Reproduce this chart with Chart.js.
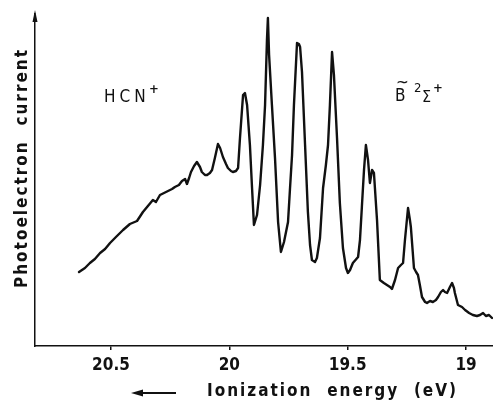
<!DOCTYPE html>
<html>
<head>
<meta charset="utf-8">
<script src="https://cdn.jsdelivr.net/npm/chart.js@4/dist/chart.umd.min.js"></script>
<style>
  html, body { margin: 0; padding: 0; background: #fff; }
  #wrap { width: 493px; height: 405px; position: relative; }
</style>
</head>
<body>
<div id="wrap"><canvas id="c" width="493" height="405"></canvas></div>
<script>
// Ionization energy (eV)
const energy = [
  20.635, 20.610, 20.589, 20.568, 20.546, 20.525, 20.504, 20.479, 20.449, 20.420,
  20.390, 20.365, 20.344, 20.323, 20.310, 20.293, 20.276, 20.259, 20.242, 20.230,
  20.213, 20.200, 20.187, 20.179, 20.170, 20.162, 20.149, 20.137, 20.124, 20.116,
  20.103, 20.094, 20.082, 20.073, 20.061, 20.048, 20.039, 20.027, 20.014, 20.006,
  19.993, 19.985, 19.972, 19.963, 19.955, 19.942, 19.934, 19.925, 19.913, 19.904,
  19.896, 19.883, 19.870, 19.858, 19.849, 19.841, 19.837, 19.832, 19.820, 19.807,
  19.794, 19.782, 19.769, 19.752, 19.744, 19.735, 19.727, 19.714, 19.706, 19.701,
  19.693, 19.680, 19.668, 19.659, 19.651, 19.638, 19.630, 19.617, 19.604, 19.592,
  19.583, 19.575, 19.566, 19.558, 19.545, 19.533, 19.520, 19.507, 19.499, 19.490,
  19.478, 19.456, 19.448, 19.440, 19.431, 19.423, 19.414, 19.406, 19.397, 19.389,
  19.376, 19.364, 19.347, 19.334, 19.321, 19.313, 19.300, 19.287, 19.275, 19.266,
  19.258, 19.245, 19.237, 19.233, 19.220, 19.211, 19.203, 19.195, 19.186, 19.173,
  19.165, 19.152, 19.140, 19.127, 19.118, 19.106, 19.097, 19.089, 19.080, 19.068,
  19.059, 19.051, 19.047, 19.034, 19.017, 19.004, 18.987, 18.971, 18.954, 18.941,
  18.928, 18.916, 18.903, 18.890
];
// Photoelectron current (arbitrary units)
const current = [
  74, 78, 83, 87, 93, 97, 103, 109, 116, 122,
  125, 134, 140, 146, 144, 151, 153, 155, 157, 159,
  161, 165, 167, 162, 168, 174, 180, 184, 179, 174,
  171, 171, 173, 176, 188, 202, 198, 189, 182, 178,
  175, 174, 175, 178, 208, 251, 253, 241, 201, 158,
  121, 131, 161, 201, 241, 306, 328, 291, 241, 188,
  124, 94, 104, 124, 156, 191, 241, 303, 302, 299,
  274, 201, 134, 101, 86, 84, 88, 108, 158, 181,
  201, 241, 294, 271, 208, 143, 98, 78, 73, 76,
  83, 89, 106, 139, 176, 201, 186, 163, 176, 173,
  126, 66, 63, 61, 59, 57, 66, 78, 81, 83,
  106, 138, 126, 119, 78, 74, 71, 61, 49, 44,
  43, 45, 44, 46, 49, 54, 56, 54, 53, 59,
  63, 58, 53, 41, 39, 36, 33, 31, 30, 31,
  33, 30, 31, 28
];
const xTicks = [20.5, 20, 19.5, 19];
const xRange = [18.886, 20.821];
const yRange = [0, 332];
const xTitle = 'Ionization  energy  (eV)';
const yTitle = 'Photoelectron  current';
const labelLeft = 'HCN';
const labelRightB = 'B';

const points = energy.map((e, i) => ({ x: e, y: current[i] }));

const FONT = '"DejaVu Sans Condensed", "DejaVu Sans", sans-serif';

const decor = {
  id: 'decor',
  afterDraw(chart) {
    const ctx = chart.ctx;
    const ca = chart.chartArea;
    ctx.save();
    ctx.fillStyle = '#111';
    ctx.strokeStyle = '#111';
    // y axis arrow head
    ctx.beginPath();
    ctx.moveTo(ca.left, ca.top - 4);
    ctx.lineTo(ca.left - 2.5, ca.top + 8);
    ctx.lineTo(ca.left + 2.5, ca.top + 8);
    ctx.closePath();
    ctx.fill();

    // y title
    ctx.save();
    ctx.translate(23, 168);
    ctx.rotate(-Math.PI / 2);
    ctx.font = 'bold 17px ' + FONT;
    if ('letterSpacing' in ctx) ctx.letterSpacing = '2px';
    ctx.textAlign = 'center';
    ctx.textBaseline = 'middle';
    ctx.fillText(yTitle, 0, 0);
    ctx.restore();

    // x title with arrow
    ctx.font = 'bold 17px ' + FONT;
    if ('letterSpacing' in ctx) ctx.letterSpacing = '2px';
    ctx.textAlign = 'left';
    ctx.textBaseline = 'middle';
    ctx.fillText(xTitle, 207, 392);
    if ('letterSpacing' in ctx) ctx.letterSpacing = '0px';
    ctx.lineWidth = 2;
    ctx.beginPath();
    ctx.moveTo(140, 393);
    ctx.lineTo(176, 393);
    ctx.stroke();
    ctx.beginPath();
    ctx.moveTo(131, 393);
    ctx.lineTo(143, 389.5);
    ctx.lineTo(143, 396.5);
    ctx.closePath();
    ctx.fill();

    // annotations
    ctx.font = '17px ' + FONT;
    if ('letterSpacing' in ctx) ctx.letterSpacing = '4px';
    ctx.textBaseline = 'alphabetic';
    ctx.fillText(labelLeft, 104, 102);
    ctx.font = 'bold 13px ' + FONT;
    if ('letterSpacing' in ctx) ctx.letterSpacing = '0px';
    ctx.fillText('+', 149, 93);

    ctx.font = '17px ' + FONT;
    ctx.fillText(labelRightB, 395, 101);
    ctx.fillText('~', 396, 88);
    ctx.font = '13px ' + FONT;
    ctx.fillText('2', 414, 92);
    ctx.font = '16px ' + FONT;
    ctx.fillText('Σ', 422, 102);
    ctx.font = 'bold 13px ' + FONT;
    ctx.fillText('+', 433, 92);
    ctx.restore();
  }
};

new Chart(document.getElementById('c'), {
  type: 'line',
  data: {
    datasets: [{
      data: points,
      borderColor: '#111',
      borderWidth: 2.4,
      borderJoinStyle: 'round',
      borderCapStyle: 'round',
      pointRadius: 0,
      tension: 0,
      fill: false
    }]
  },
  options: {
    responsive: false,
    animation: false,
    events: [],
    layout: { padding: { top: 14, left: 0, right: 0, bottom: 0 } },
    plugins: { legend: { display: false }, tooltip: { enabled: false }, title: { display: false } },
    scales: {
      x: {
        type: 'linear',
        reverse: true,
        min: xRange[0],
        max: xRange[1],
        afterBuildTicks(scale) { scale.ticks = xTicks.map(v => ({ value: v })); },
        afterFit(scale) { scale.height = 59; },
        grid: { display: true, drawOnChartArea: false, drawTicks: true, tickLength: 4, color: '#111', lineWidth: 1.5 },
        border: { display: true, color: '#111', width: 1.5 },
        ticks: {
          color: '#111',
          padding: 5,
          maxRotation: 0,
          autoSkip: false,
          font: { family: FONT, size: 17, weight: 'bold' },
          callback: (v) => String(v)
        }
      },
      y: {
        type: 'linear',
        min: yRange[0],
        max: yRange[1],
        afterFit(scale) { scale.width = 35; },
        grid: { display: false },
        border: { display: true, color: '#111', width: 1.5 },
        ticks: { display: false }
      }
    }
  },
  plugins: [decor]
});
</script>
</body>
</html>
